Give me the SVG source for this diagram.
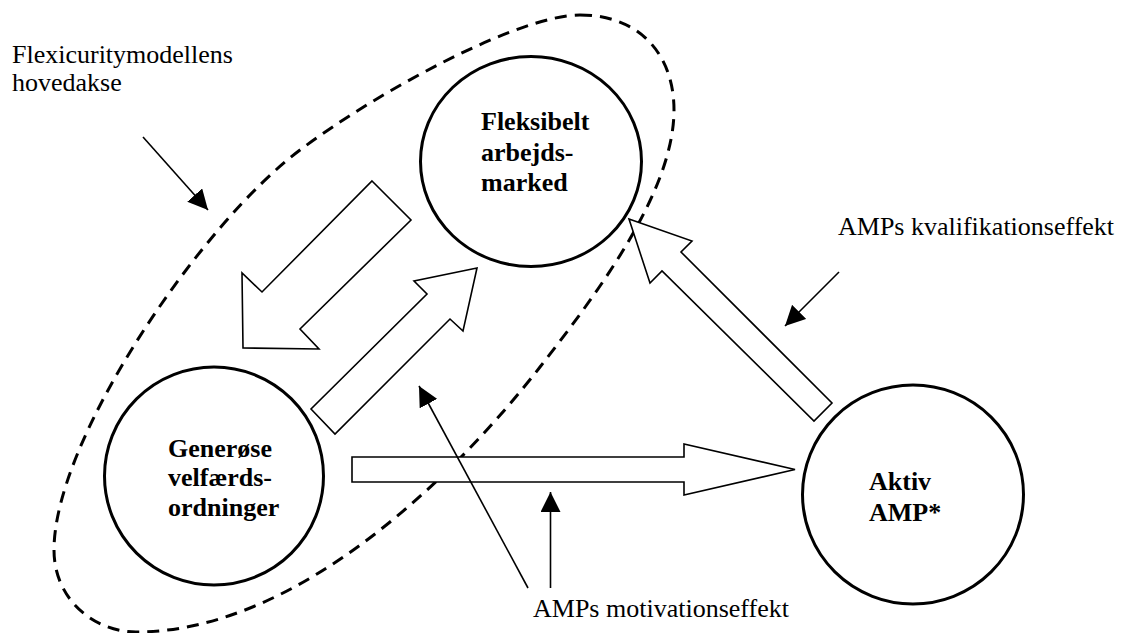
<svg xmlns="http://www.w3.org/2000/svg" width="1121" height="633" viewBox="0 0 1121 633">
  <style>
    .bg { fill: #ffffff; }
    .loop { fill: none; stroke: #000; stroke-width: 3; stroke-dasharray: 12 8; }
    .block { fill: #ffffff; stroke: #000; stroke-width: 1.6; stroke-linejoin: miter; }
    .node { fill: #ffffff; stroke: #000; stroke-width: 3; }
    .nt { font-size: 26px; font-weight: bold; fill: #000; }
    .lbl { font-size: 26px; fill: #000; }
    .ptr { fill: none; stroke: #000; stroke-width: 1.6; marker-end: url(#ah); }
  </style>
  <defs>
    <marker id="ah" markerUnits="userSpaceOnUse" viewBox="0 0 20 20" markerWidth="20" markerHeight="20" refX="20" refY="10" orient="auto">
      <path d="M0,0 L20,10 L0,20 Z" fill="#000"/>
    </marker>
  </defs>
  <rect class="bg" x="0" y="0" width="1121" height="633"/>

  <g id="axis-loop">
    <path class="loop" d="M 580,15 C 640,15 674,55 674,110 C 674,190 600,290 540,367 C 460,470 300,632 136,632 C 95,632 54,600 54,550 C 54,440 200,225 300,150 C 380,90 520,15 580,15 Z"/>
  </g>

  <g id="connectors">
    <polygon class="block" points="372,181 411,220 300,329 319,349 243,348 242,273 262,292"/>
    <polygon class="block" points="311,409 335,434 450,319 463,331 477,268 414,281 427,294"/>
    <polygon class="block" points="629,219 692,241 681,252 832,403 814,421 662,271 650,283"/>
    <polygon class="block" points="352,457 684,457 684,444 795,469.5 684,495 684,482 352,482"/>
  </g>

  <g font-family="Liberation Serif, DejaVu Serif, serif">
  <g id="node-fleksibelt">
    <ellipse class="node" cx="531" cy="161.5" rx="110.5" ry="105"/>
    <text class="nt" x="481" y="130">Fleksibelt</text>
    <text class="nt" x="481" y="160.5">arbejds-</text>
    <text class="nt" x="481" y="190.5">marked</text>
  </g>

  <g id="node-generose">
    <ellipse class="node" cx="214" cy="476" rx="109.5" ry="109"/>
    <text class="nt" x="168" y="456.5">Generøse</text>
    <text class="nt" x="168" y="486">velfærds-</text>
    <text class="nt" x="168" y="515.5">ordninger</text>
  </g>

  <g id="node-aktiv">
    <ellipse class="node" cx="913" cy="494.5" rx="110.5" ry="109.5"/>
    <text class="nt" x="869" y="490">Aktiv</text>
    <text class="nt" x="869" y="521">AMP*</text>
  </g>

  <g id="label-hovedakse">
    <text class="lbl" x="12" y="62.5">Flexicuritymodellens</text>
    <text class="lbl" x="12" y="90.5">hovedakse</text>
  </g>
  <g id="label-kvalifikation">
    <text class="lbl" x="838" y="235">AMPs kvalifikationseffekt</text>
  </g>
  <g id="label-motivation">
    <text class="lbl" x="533" y="616.5">AMPs motivationseffekt</text>
  </g>
  </g>

  <g id="pointers">
    <line class="ptr" x1="143" y1="137" x2="208" y2="210"/>
    <line class="ptr" x1="839" y1="272" x2="785" y2="326"/>
    <line class="ptr" x1="528" y1="588" x2="419" y2="386"/>
    <line class="ptr" x1="550.5" y1="588" x2="550.5" y2="492"/>
  </g>
</svg>
